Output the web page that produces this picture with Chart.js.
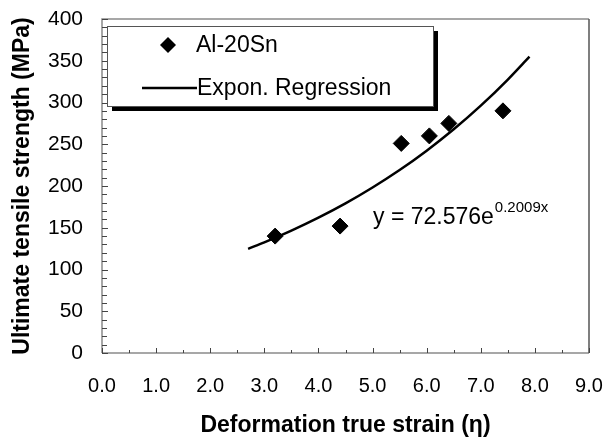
<!DOCTYPE html>
<html>
<head>
<meta charset="utf-8">
<script src="https://cdn.jsdelivr.net/npm/chart.js@4.4.1/dist/chart.umd.min.js"></script>
<style>
  html, body { margin: 0; padding: 0; background: #fff; }
  #wrap { width: 607px; height: 440px; position: relative; }
</style>
</head>
<body>
<div id="wrap"><canvas id="c" width="607" height="440"></canvas></div>
<script>
// Measured data (Al-20Sn)
const strainValues = [3.2, 4.4, 5.53, 6.05, 6.41, 7.41];
const utsValues = [140, 152, 251, 260, 275, 290];

// Exponential regression curve as drawn (y = 72.576e^0.2009x)
const fitStrain = [2.7, 3.0, 3.5, 4.0, 4.5, 5.0, 5.5, 6.0, 6.5, 7.0, 7.5, 7.9];
const fitUts = [124.8, 132.6, 146.6, 162.1, 179.2, 198.2, 219.1, 242.3, 267.9, 296.2, 327.5, 354.9];

// Labels
const seriesLabel = 'Al-20Sn';
const fitLabel = 'Expon. Regression';
const equationMain = 'y = 72.576e';
const equationExp = '0.2009x';
const xTitle = 'Deformation true strain (\u03b7)';
const yTitle = 'Ultimate tensile strength (MPa)';
const xTickMin = 0, xTickMax = 9, xTickStep = 1;
const yTickMin = 0, yTickMax = 400, yTickStep = 50;

const FONT = '"Liberation Sans", Arial, Helvetica, sans-serif';

const pointsData = strainValues.map((x, i) => ({x: x, y: utsValues[i]}));
const fitData = fitStrain.map((x, i) => ({x: x, y: fitUts[i]}));

const framePlugin = {
  id: 'frame',
  beforeDatasetsDraw(chart) {
    const {ctx, chartArea: a, scales} = chart;
    const xs = scales.x, ys = scales.y;
    ctx.save();
    ctx.lineWidth = 1.5;
    ctx.strokeStyle = '#8a8a8a';
    ctx.beginPath();
    ctx.moveTo(a.left, a.bottom); ctx.lineTo(a.left, a.top); ctx.lineTo(a.right, a.top);
    ctx.moveTo(a.left, a.bottom); ctx.lineTo(a.right, a.bottom);
    ctx.stroke();
    ctx.strokeStyle = '#555';
    ctx.beginPath();
    ctx.moveTo(a.right, a.top); ctx.lineTo(a.right, a.bottom);
    ctx.stroke();
    ctx.lineWidth = 1;
    ctx.strokeStyle = '#444';
    ctx.beginPath();
    for (let v = yTickMin; v <= yTickMax; v += 10) {
      const py = Math.round(ys.getPixelForValue(v)) + 0.5;
      const len = (v % yTickStep === 0) ? 6 : 5;
      ctx.moveTo(a.left, py); ctx.lineTo(a.left + len, py);
    }
    for (let k = 0; k <= (xTickMax - xTickMin) * 2; k++) {
      const v = xTickMin + k * 0.5;
      const px = Math.round(xs.getPixelForValue(v)) + 0.5;
      const len = (k % 2 === 0) ? 5 : 3;
      ctx.moveTo(px, a.bottom); ctx.lineTo(px, a.bottom - len);
    }
    ctx.stroke();
    ctx.restore();
  },
  afterDatasetsDraw(chart) {
    const {ctx} = chart;
    ctx.save();
    const bx = 107, by = 26, bw = 326, bh = 80;
    ctx.fillStyle = '#000';
    ctx.fillRect(bx + 5, by + 5, bw, bh);
    ctx.fillStyle = '#fff';
    ctx.fillRect(bx, by, bw, bh);
    ctx.strokeStyle = '#555';
    ctx.lineWidth = 1;
    ctx.strokeRect(bx + 0.5, by + 0.5, bw, bh);
    ctx.fillStyle = '#000';
    ctx.beginPath();
    const dx = 168, dy = 45, r = 8;
    ctx.moveTo(dx - r, dy); ctx.lineTo(dx, dy - r); ctx.lineTo(dx + r, dy); ctx.lineTo(dx, dy + r);
    ctx.closePath(); ctx.fill();
    ctx.font = '23px ' + FONT;
    ctx.textBaseline = 'middle';
    ctx.textAlign = 'left';
    ctx.fillText(seriesLabel, 196, dy + 1);
    ctx.strokeStyle = '#000';
    ctx.lineWidth = 2.5;
    ctx.beginPath();
    ctx.moveTo(142, 88); ctx.lineTo(197, 88);
    ctx.stroke();
    ctx.fillText(fitLabel, 197, 89);
    ctx.textBaseline = 'alphabetic';
    ctx.font = '23px ' + FONT;
    ctx.fillText(equationMain, 373, 224);
    const w = ctx.measureText(equationMain).width;
    ctx.font = '15px ' + FONT;
    ctx.fillText(equationExp, 373 + w + 1, 212);
    ctx.restore();
  }
};

new Chart(document.getElementById('c'), {
  type: 'scatter',
  data: {
    datasets: [
      {
        label: seriesLabel,
        data: pointsData,
        pointStyle: 'rectRot',
        pointRadius: 8,
        pointHoverRadius: 8,
        backgroundColor: '#000',
        borderColor: '#000',
        borderWidth: 1,
        showLine: false,
        order: 1
      },
      {
        label: fitLabel,
        data: fitData,
        showLine: true,
        pointRadius: 0,
        borderColor: '#000',
        borderWidth: 2.5,
        cubicInterpolationMode: 'monotone',
        fill: false,
        order: 2
      }
    ]
  },
  options: {
    responsive: false,
    animation: false,
    devicePixelRatio: 1,
    layout: { padding: { left: 0, right: 18, top: 19, bottom: 0 } },
    plugins: { legend: { display: false }, tooltip: { enabled: false } },
    scales: {
      x: {
        type: 'linear',
        min: xTickMin, max: xTickMax,
        grid: { display: false, drawTicks: false },
        border: { display: false },
        ticks: {
          stepSize: xTickStep,
          padding: 21,
          color: '#000',
          font: { family: FONT, size: 20 },
          callback: v => Number(v).toFixed(1)
        },
        title: {
          display: true, text: xTitle, color: '#000',
          font: { family: FONT, size: 23, weight: 'bold' },
          padding: { top: 0, bottom: 1 }
        },
        afterFit(scale) { scale.height = 87; scale.paddingLeft = 0; scale.paddingRight = 0; }
      },
      y: {
        type: 'linear',
        min: yTickMin, max: yTickMax,
        grid: { display: false, drawTicks: false },
        border: { display: false },
        ticks: {
          stepSize: yTickStep,
          padding: 19,
          color: '#000',
          font: { family: FONT, size: 21 }
        },
        title: {
          display: true, text: yTitle, color: '#000',
          font: { family: FONT, size: 23, weight: 'bold' },
          padding: { top: 9, bottom: 0 }
        },
        afterFit(scale) { scale.width = 102; scale.paddingTop = 0; scale.paddingBottom = 0; }
      }
    }
  },
  plugins: [framePlugin]
});
</script>
</body>
</html>
